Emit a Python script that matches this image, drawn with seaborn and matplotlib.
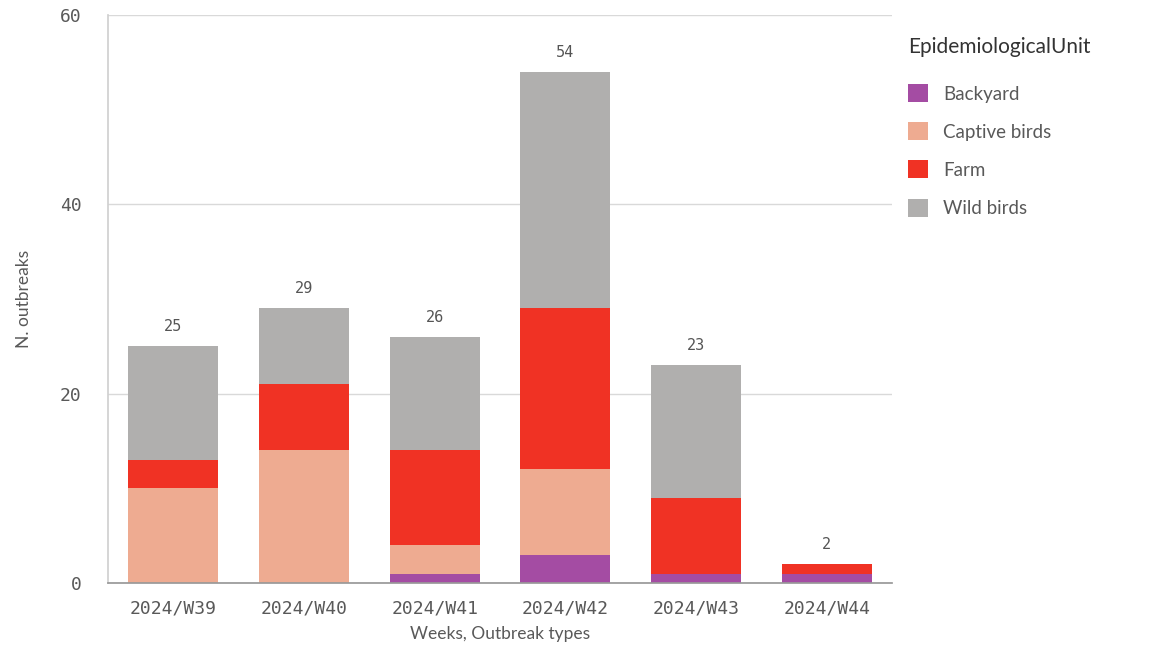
import seaborn as sns
import matplotlib.pyplot as plt
import pandas as pd

weeks = ["2024/W39", "2024/W40", "2024/W41", "2024/W42", "2024/W43", "2024/W44"]
units = ["Backyard", "Captive birds", "Farm", "Wild birds"]
backyard = [0, 0, 1, 3, 1, 1]
captive = [10, 14, 3, 9, 0, 0]
farm = [3, 7, 10, 17, 8, 1]
wild = [12, 8, 12, 25, 14, 0]
colors = ["#a44ca3", "#eeab91", "#f03224", "#b0afae"]

df = pd.DataFrame({"week": weeks, "Backyard": backyard, "Captive birds": captive,
                   "Farm": farm, "Wild birds": wild})

sns.set_theme(style="white")
plt.rcParams["font.family"] = ["Lato", "DejaVu Sans"]

fig = plt.figure(figsize=(11.57, 6.57), dpi=100)
ax = fig.add_axes([0.0933, 0.1126, 0.6777, 0.8645])

bottom = [0] * len(weeks)
for unit, col in zip(units, colors):
    sns.barplot(data=df, x="week", y=unit, bottom=bottom, color=col, width=0.69,
                saturation=1, linewidth=0, label=unit, ax=ax)
    bottom = [b + v for b, v in zip(bottom, df[unit])]

# totals above bars
for i, tot in enumerate(bottom):
    ax.text(i, tot + 1.3, str(tot), ha="center", va="bottom", fontsize=11,
            family="DejaVu Sans Mono", color="#555555")

ax.set_ylim(0, 60)
ax.set_xlim(-0.5, 5.5)
ax.set_yticks([0, 20, 40, 60])
ax.yaxis.grid(True, color="#d9d9d9", linewidth=1)
ax.set_axisbelow(True)
for s in ["top", "right"]:
    ax.spines[s].set_visible(False)
ax.spines["left"].set_color("#d0d0d0")
ax.spines["bottom"].set_color("#999999")
ax.tick_params(axis="y", length=11, color="#d0d0d0", width=1, pad=8)
ax.tick_params(axis="x", length=0, pad=12)
for lbl in ax.get_xticklabels() + ax.get_yticklabels():
    lbl.set_family("DejaVu Sans Mono")
    lbl.set_fontsize(13)
    lbl.set_color("#595959")

ax.set_xlabel("Weeks, Outbreak types", fontsize=12.5, color="#595959", labelpad=6)
ax.set_ylabel("N. outbreaks", fontsize=12.5, color="#595959", labelpad=20)

handles, labels = ax.get_legend_handles_labels()
ax.get_legend().remove()
leg = fig.legend(handles, labels, loc="upper left", bbox_to_anchor=(0.77, 0.97),
                 frameon=False, title="EpidemiologicalUnit", title_fontsize=15,
                 fontsize=13.5, handlelength=1.1, handleheight=1.1,
                 labelspacing=1.05, handletextpad=0.8, alignment="left")
leg._legend_box.sep = 20
for t in leg.get_texts():
    t.set_color("#595959")
leg.get_title().set_color("#333333")

fig.savefig("out.png", dpi=100)
